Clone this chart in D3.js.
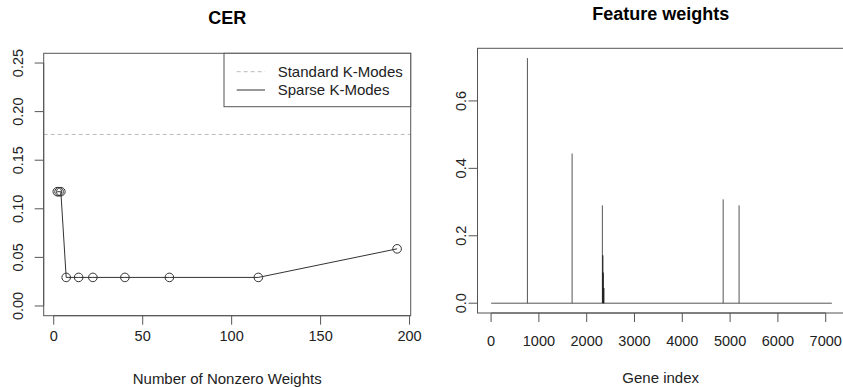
<!DOCTYPE html>
<html>
<head>
<meta charset="utf-8">
<script src="https://cdn.jsdelivr.net/npm/d3@7"></script>
<style>
  body { margin: 0; background: #fff; }
  svg { font-family: "Liberation Sans", Arial, sans-serif; }
</style>
</head>
<body>
<svg id="chart" width="843" height="387"></svg>
<script>
// CER vs number of nonzero weights
const nonzero = [2, 3, 4, 7, 14, 22, 40, 65, 115, 193];
const cer = [0.1176, 0.1176, 0.1176, 0.0294, 0.0294, 0.0294, 0.0294, 0.0294, 0.0294, 0.0588];
const standardCER = 0.1765;
const cerXTicks = [0, 50, 100, 150, 200];
const cerYTicks = [0, 0.05, 0.10, 0.15, 0.20, 0.25];
const cerYLim = [0, 0.25];
const legendLabels = ["Standard K-Modes", "Sparse K-Modes"];

// feature weights (only nonzero genes listed)
const nGenes = 7129;
const geneIndex = [760, 1695, 2328, 2338, 2346, 2360, 4855, 5188];
const geneWeight = [0.727, 0.444, 0.290, 0.142, 0.091, 0.045, 0.308, 0.290];
const fwXTicks = [0, 1000, 2000, 3000, 4000, 5000, 6000, 7000];
const fwYTicks = [0, 0.2, 0.4, 0.6];

const svg = d3.select("#chart");
const axisCol = "#555";

// R style 4% padding
function pad(ext) {
    const d = (ext[1] - ext[0]) * 0.04;
    return [ext[0] - d, ext[1] + d];
}

function rAxisBottom(g, x, ticks, fmt, y0, labelY) {
    g.append("line")
        .attr("x1", x(ticks[0])).attr("x2", x(ticks[ticks.length - 1]))
        .attr("y1", y0).attr("y2", y0)
        .attr("stroke", axisCol);
    ticks.forEach(t => {
        g.append("line")
            .attr("x1", x(t)).attr("x2", x(t))
            .attr("y1", y0).attr("y2", y0 + 9)
            .attr("stroke", axisCol);
        g.append("text")
            .attr("x", x(t)).attr("y", labelY)
            .attr("text-anchor", "middle")
            .attr("font-size", 14.5)
            .attr("fill", "#222")
            .text(fmt(t));
    });
}

function rAxisLeft(g, y, ticks, fmt, x0, labelX) {
    g.append("line")
        .attr("x1", x0).attr("x2", x0)
        .attr("y1", y(ticks[0])).attr("y2", y(ticks[ticks.length - 1]))
        .attr("stroke", axisCol);
    ticks.forEach(t => {
        g.append("line")
            .attr("x1", x0 - 9).attr("x2", x0)
            .attr("y1", y(t)).attr("y2", y(t))
            .attr("stroke", axisCol);
        g.append("text")
            .attr("transform", `translate(${labelX},${y(t)}) rotate(-90)`)
            .attr("text-anchor", "middle")
            .attr("font-size", 14.5)
            .attr("fill", "#222")
            .text(fmt(t));
    });
}

// ---------- left panel: CER ----------
{
    const box = {l: 43.7, r: 410.7, t: 53.3, b: 315.7};
    const x = d3.scaleLinear().domain(pad(d3.extent(nonzero))).range([box.l, box.r]);
    const y = d3.scaleLinear().domain(pad(cerYLim)).range([box.b, box.t]);
    const g = svg.append("g");

    g.append("line")
        .attr("x1", box.l).attr("x2", box.r)
        .attr("y1", y(standardCER)).attr("y2", y(standardCER))
        .attr("stroke", "#bbb").attr("stroke-dasharray", "4,3");

    const line = d3.line().x((d, i) => x(nonzero[i])).y(d => y(d));
    g.append("path")
        .attr("d", line(cer))
        .attr("fill", "none").attr("stroke", "#333");

    g.selectAll("circle").data(cer).join("circle")
        .attr("cx", (d, i) => x(nonzero[i]))
        .attr("cy", d => y(d))
        .attr("r", 4.3)
        .attr("fill", "none").attr("stroke", "#333");

    g.append("rect")
        .attr("x", box.l).attr("y", box.t)
        .attr("width", box.r - box.l).attr("height", box.b - box.t)
        .attr("fill", "none").attr("stroke", axisCol);

    rAxisBottom(g, x, cerXTicks, d3.format("d"), box.b, 341);
    rAxisLeft(g, y, cerYTicks, d3.format(".2f"), box.l, 22.5);

    // legend
    const lg = g.append("g");
    lg.append("rect")
        .attr("x", 224).attr("y", box.t)
        .attr("width", box.r - 224).attr("height", 53.4)
        .attr("fill", "#fff").attr("stroke", axisCol);
    legendLabels.forEach((lab, i) => {
        const yy = 71.7 + i * 18.3;
        lg.append("line")
            .attr("x1", 236.7).attr("x2", 265)
            .attr("y1", yy).attr("y2", yy)
            .attr("stroke", i === 0 ? "#bbb" : "#333")
            .attr("stroke-dasharray", i === 0 ? "4,3" : null);
        lg.append("text")
            .attr("x", 277.7).attr("y", yy + 5)
            .attr("font-size", 15).attr("fill", "#222")
            .text(lab);
    });

    svg.append("text")
        .attr("x", (box.l + box.r) / 2).attr("y", 24)
        .attr("text-anchor", "middle")
        .attr("font-size", 18).attr("font-weight", "bold")
        .text("CER");
    svg.append("text")
        .attr("x", (box.l + box.r) / 2).attr("y", 384)
        .attr("text-anchor", "middle")
        .attr("font-size", 15).attr("fill", "#222")
        .text("Number of Nonzero Weights");
}

// ---------- right panel: feature weights ----------
{
    const box = {l: 477.5, t: 48.3, b: 313};
    const x = d3.scaleLinear().domain(pad([1, nGenes])).range([box.l, 845.5]);
    const y = d3.scaleLinear().domain(pad([0, d3.max(geneWeight)])).range([box.b, box.t]);
    const g = svg.append("g");

    g.append("line")
        .attr("x1", x(1)).attr("x2", x(nGenes))
        .attr("y1", y(0)).attr("y2", y(0))
        .attr("stroke", "#555");

    g.selectAll("line.spike").data(geneWeight).join("line")
        .attr("class", "spike")
        .attr("x1", (d, i) => x(geneIndex[i])).attr("x2", (d, i) => x(geneIndex[i]))
        .attr("y1", y(0)).attr("y2", d => y(d))
        .attr("stroke", d => d < 0.2 ? "#111" : "#555");

    g.append("rect")
        .attr("x", box.l).attr("y", box.t)
        .attr("width", 845.5 - box.l).attr("height", box.b - box.t)
        .attr("fill", "none").attr("stroke", axisCol);

    rAxisBottom(g, x, fwXTicks, d3.format("d"), box.b, 346);
    rAxisLeft(g, y, fwYTicks, d3.format(".1f"), box.l, 465.5);

    svg.append("text")
        .attr("x", 660.7).attr("y", 19.6)
        .attr("text-anchor", "middle")
        .attr("font-size", 18).attr("font-weight", "bold")
        .text("Feature weights");
    svg.append("text")
        .attr("x", 660.7).attr("y", 382.5)
        .attr("text-anchor", "middle")
        .attr("font-size", 15).attr("fill", "#222")
        .text("Gene index");
}
</script>
</body>
</html>
